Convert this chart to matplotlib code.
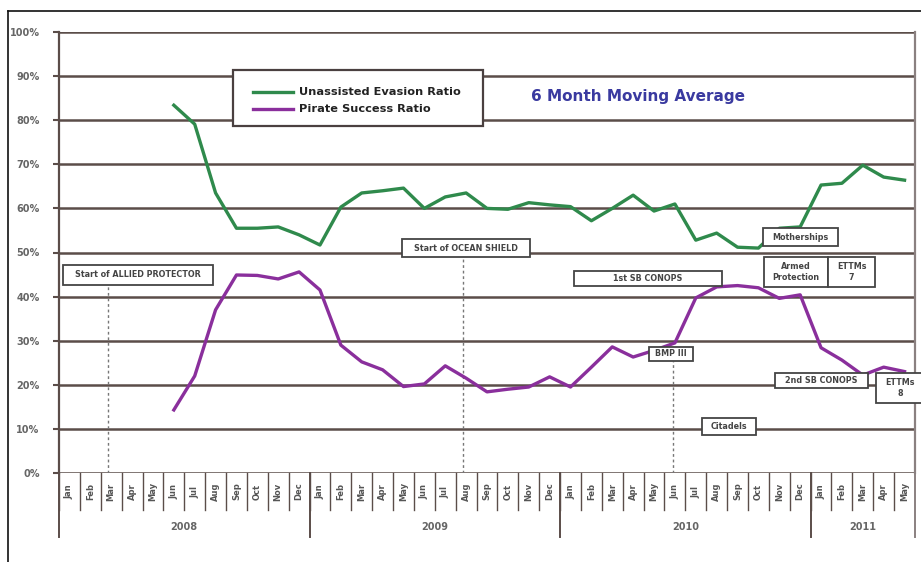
import matplotlib
matplotlib.use("Agg")
import matplotlib.pyplot as plt
from matplotlib.lines import Line2D
from matplotlib.patches import Rectangle
import matplotlib.transforms as mtransforms

# --- data -------------------------------------------------------------
MONTHS = ["Jan", "Feb", "Mar", "Apr", "May", "Jun",
          "Jul", "Aug", "Sep", "Oct", "Nov", "Dec"]
YEARS = ["2008", "2009", "2010", "2011"]
MONTHS_IN_YEAR = [12, 12, 12, 5]

# series start at Jun 2008 (index 5) and run to May 2011
START_IDX = 5
evasion = [83.4, 79.1, 63.5, 55.5, 55.5, 55.8, 54.0,
           51.7, 60.3, 63.5, 64.0, 64.6, 60.0, 62.6, 63.5, 60.0, 59.8, 61.3, 60.8,
           60.4, 57.2, 60.0, 63.0, 59.4, 61.0, 52.8, 54.4, 51.2, 51.0, 55.5, 55.8,
           65.3, 65.7, 69.8, 67.1, 66.4]
pirate = [14.3, 22.0, 37.0, 44.9, 44.8, 44.0, 45.6,
          41.5, 29.0, 25.2, 23.4, 19.6, 20.2, 24.3, 21.5, 18.4, 19.0, 19.5, 21.8,
          19.5, 24.0, 28.6, 26.3, 27.8, 29.5, 39.7, 42.2, 42.5, 42.0, 39.6, 40.4,
          28.4, 25.6, 22.2, 24.0, 23.0]

# event annotations: label, centre (month position, value), box size (months, %)
events = [
    ("Start of ALLIED PROTECTOR", 3.80, 44.9, 7.2, 4.5),
    ("Start of OCEAN SHIELD", 19.5, 51.0, 6.1, 4.1),
    ("1st SB CONOPS", 28.2, 44.2, 7.1, 3.4),
    ("BMP III", 29.3, 27.0, 2.1, 3.2),
    ("Motherships", 35.5, 53.5, 3.6, 4.1),
    ("Armed\nProtection", 35.3, 45.6, 3.06, 6.8),
    ("ETTMs\n7", 37.97, 45.6, 2.25, 6.8),
    ("2nd SB CONOPS", 36.5, 20.9, 4.45, 3.4),
    ("ETTMs\n8", 40.3, 19.3, 2.3, 6.8),
    ("Citadels", 32.1, 10.6, 2.6, 3.9),
]
# dotted marker lines: (month position, top value)
markers = [(2.35, 42.6), (19.35, 48.9), (29.4, 25.4)]

GRID = "#5b4d49"
GREEN = "#2f8a4c"
PURPLE = "#8a2f9c"
TXT = "#666666"

W, H = 921, 562
fig = plt.figure(figsize=(W / 100, H / 100), dpi=100)
fig.patch.set_facecolor("white")

x0, x1, ytop, ybot = 59, 915, 32, 473
ax = fig.add_axes([x0 / W, 1 - ybot / H, (x1 - x0) / W, (ybot - ytop) / H])

n_months = sum(MONTHS_IN_YEAR)
ax.set_xlim(0, n_months)
ax.set_ylim(0, 100)

# grid
for v in range(10, 101, 10):
    ax.axhline(v, color=GRID, lw=1.8, zorder=1)
ax.axhline(0, color=GRID, lw=1.8, zorder=1)

xs = [START_IDX + i + 0.5 for i in range(len(evasion))]
ax.plot(xs, evasion, color=GREEN, lw=2.4, zorder=3, solid_joinstyle="round")
ax.plot(xs, pirate, color=PURPLE, lw=2.4, zorder=3, solid_joinstyle="round")

for mx, top in markers:
    ax.plot([mx, mx], [0, top], color="#777777", lw=1.0, ls=(0, (2, 2)), zorder=2)

for label, mx, my, bw, bh in events:
    ax.add_patch(Rectangle((mx - bw / 2, my - bh / 2), bw, bh, fc="white",
                           ec="#444444", lw=1.3, zorder=5, clip_on=False))
    ax.text(mx, my, label, ha="center", va="center", fontsize=5.8,
            fontweight="bold", color="#444444", zorder=6, linespacing=1.3,
            clip_on=False)

# axes styling
for s in ["top", "bottom"]:
    ax.spines[s].set_visible(False)
ax.spines["left"].set_color(GRID)
ax.spines["left"].set_linewidth(1.6)
ax.spines["right"].set_color("#8a8080")
ax.spines["right"].set_linewidth(1.6)

ax.set_yticks(range(0, 101, 10))
ax.set_yticklabels([f"{v}%" for v in range(0, 101, 10)], fontsize=7,
                   fontweight="bold", color=TXT)
ax.tick_params(axis="y", length=4, color=GRID, width=1.5, pad=10)
ax.set_xticks([])

# month cells under the axis
trans = mtransforms.blended_transform_factory(ax.transData, ax.transAxes)
cell_bot = -(510 - ybot) / (ybot - ytop)
year_bot = -(537 - ybot) / (ybot - ytop)
labels = []
for y, cnt in zip(YEARS, MONTHS_IN_YEAR):
    labels += MONTHS[:cnt]
for i, m in enumerate(labels):
    ax.plot([i, i], [0, cell_bot], color=GRID, lw=1.0, transform=trans, clip_on=False)
    ax.text(i + 0.5, cell_bot / 2, m, rotation=90, ha="center", va="center",
            fontsize=6, fontweight="bold", color="#555555", transform=trans)
start = 0
for y, cnt in zip(YEARS, MONTHS_IN_YEAR):
    ax.plot([start, start], [0, year_bot], color=GRID, lw=1.4, transform=trans,
            clip_on=False)
    ax.text(start + cnt / 2, -(527 - ybot) / (ybot - ytop), y, ha="center",
            va="center", fontsize=7, fontweight="bold", color=TXT, transform=trans)
    start += cnt
ax.plot([n_months, n_months], [0, year_bot], color="#8a8080", lw=1.4,
        transform=trans, clip_on=False)

# title-like note
fig.text(638 / W, 1 - 97 / H, "6 Month Moving Average", ha="center", va="center",
         fontsize=11, fontweight="bold", color="#3a3aa0")

# legend drawn as a box
lx0, ly0, lx1, ly1 = 233, 70, 483, 126
fig.patches.append(Rectangle((lx0 / W, 1 - ly1 / H), (lx1 - lx0) / W, (ly1 - ly0) / H,
                             transform=fig.transFigure, fc="white", ec="#4a4040",
                             lw=1.6, zorder=10))
for yy, col, lab in [(92, GREEN, "Unassisted Evasion Ratio"),
                     (109, PURPLE, "Pirate Success Ratio")]:
    fig.lines.append(Line2D([253 / W, 293 / W], [1 - yy / H, 1 - yy / H],
                            transform=fig.transFigure, color=col, lw=2.4, zorder=11))
    fig.text(299 / W, 1 - yy / H, lab, ha="left", va="center", fontsize=8.2,
             fontweight="bold", color="#222222", zorder=12)

# outer frame (left and top edges visible)
fig.lines.append(Line2D([8 / W, 8 / W], [0, 1 - 11 / H], transform=fig.transFigure,
                        color="#111111", lw=1.2))
fig.lines.append(Line2D([8 / W, 1], [1 - 11 / H, 1 - 11 / H], transform=fig.transFigure,
                        color="#111111", lw=1.2))

fig.savefig("out.png", dpi=100, facecolor="white")
